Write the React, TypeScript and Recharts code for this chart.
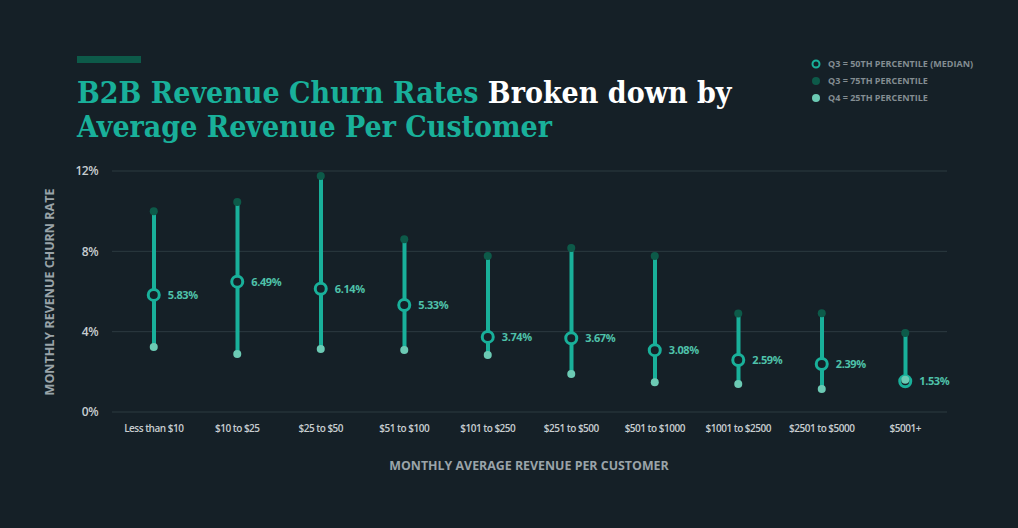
import { ComposedChart, Bar, Line, XAxis, YAxis, CartesianGrid, LabelList } from "recharts";

const categories = [
  "Less than $10",
  "$10 to $25",
  "$25 to $50",
  "$51 to $100",
  "$101 to $250",
  "$251 to $500",
  "$501 to $1000",
  "$1001 to $2500",
  "$2501 to $5000",
  "$5001+",
];
const median = [5.83, 6.49, 6.14, 5.33, 3.74, 3.67, 3.08, 2.59, 2.39, 1.53];
const upper = [10.0, 10.46, 11.75, 8.6, 7.77, 8.17, 7.77, 4.9, 4.92, 3.93];
const lower = [3.24, 2.89, 3.14, 3.09, 2.84, 1.89, 1.48, 1.39, 1.15, 1.6];
const yTicks = [0, 4, 8, 12];

const BG = "#152027";
const TEAL = "#19b09a";
const DARK = "#0d5a49";
const LIGHT = "#6ccab4";

const data = categories.map((c, i) => ({
  name: c,
  median: median[i],
  upper: upper[i],
  lower: lower[i],
  range: [lower[i], upper[i]],
}));

const legend = [
  { label: "Q3 = 50TH PERCENTILE (MEDIAN)", kind: "ring" },
  { label: "Q3 = 75TH PERCENTILE", kind: DARK },
  { label: "Q4 = 25TH PERCENTILE", kind: LIGHT },
];

const font = "'Open Sans', sans-serif";

export default function App() {
  return (
    <div
      style={{
        position: "fixed",
        left: 0,
        top: 0,
        width: 1018,
        height: 528,
        background: BG,
        overflow: "hidden",
        fontFamily: font,
      }}
    >
      <div style={{ position: "absolute", left: 77, top: 56, width: 64, height: 7, background: DARK }} />
      <div
        style={{
          position: "absolute",
          left: 77,
          top: 76,
          fontFamily: "'DejaVu Serif Condensed', 'DejaVu Serif', serif",
          fontWeight: 700,
          fontSize: 30,
          lineHeight: "34px",
          color: TEAL,
          whiteSpace: "nowrap",
        }}
      >
        B2B Revenue Churn Rates <span style={{ color: "#ffffff" }}>Broken down by</span>
        <br />
        Average Revenue Per Customer
      </div>

      <div style={{ position: "absolute", left: 810, top: 55 }}>
        {legend.map((l) => (
          <div key={l.label} style={{ display: "flex", alignItems: "center", height: 17 }}>
            <svg width={12} height={12} style={{ marginRight: 6 }}>
              {l.kind === "ring" ? (
                <circle cx={6} cy={6} r={3.5} fill="none" stroke={TEAL} strokeWidth={2} />
              ) : (
                <circle cx={6} cy={6} r={4} fill={l.kind} />
              )}
            </svg>
            <span style={{ fontSize: 9, fontWeight: 700, color: "#838d92" }}>{l.label}</span>
          </div>
        ))}
      </div>

      <div
        style={{
          position: "absolute",
          left: 49,
          top: 292,
          transform: "translate(-50%, -50%) rotate(-90deg)",
          fontSize: 12.5,
          fontWeight: 700,
          color: "#9aa4a9",
          whiteSpace: "nowrap",
        }}
      >
        MONTHLY REVENUE CHURN RATE
      </div>
      <div
        style={{
          position: "absolute",
          left: 529,
          top: 465,
          transform: "translate(-50%, -50%)",
          fontSize: 12.4,
          fontWeight: 700,
          color: "#9aa4a9",
          whiteSpace: "nowrap",
        }}
      >
        MONTHLY AVERAGE REVENUE PER CUSTOMER
      </div>

      <div style={{ position: "absolute", left: 0, top: 0 }}>
        <ComposedChart
          width={1018}
          height={528}
          data={data}
          margin={{ top: 171, right: 71, bottom: 86, left: 30 }}
        >
          <CartesianGrid vertical={false} stroke="#2c3a40" />
          <XAxis
            dataKey="name"
            axisLine={false}
            tickLine={false}
            height={30}
            tickMargin={7}
            tick={{ fill: "#c7cdd0", fontSize: 10, fontWeight: 600, letterSpacing: -0.5, fontFamily: font }}
            interval={0}
          />
          <YAxis
            domain={[0, 12]}
            ticks={yTicks}
            width={82}
            axisLine={false}
            tickLine={false}
            tickMargin={8}
            tickFormatter={(v) => `${v}%`}
            tick={{ fill: "#c7cdd0", fontSize: 12, fontWeight: 600, letterSpacing: -0.5, fontFamily: font }}
          />
          <Bar dataKey="range" barSize={4} fill={TEAL} isAnimationActive={false} />
          <Line
            dataKey="upper"
            stroke="none"
            dot={{ r: 4, fill: DARK, stroke: "none" }}
            activeDot={false}
            isAnimationActive={false}
          />
          <Line
            dataKey="median"
            stroke="none"
            dot={{ r: 5.5, fill: BG, stroke: TEAL, strokeWidth: 3 }}
            activeDot={false}
            isAnimationActive={false}
          >
            <LabelList
              dataKey="median"
              position="right"
              offset={14}
              formatter={(v: any) => `${Number(v).toFixed(2)}%`}
              style={{ fill: "#4fc2aa", fontSize: 11, fontWeight: 700, letterSpacing: -0.4, fontFamily: font }}
            />
          </Line>
          <Line
            dataKey="lower"
            stroke="none"
            dot={{ r: 4, fill: LIGHT, stroke: "none" }}
            activeDot={false}
            isAnimationActive={false}
          />
        </ComposedChart>
      </div>
    </div>
  );
}
